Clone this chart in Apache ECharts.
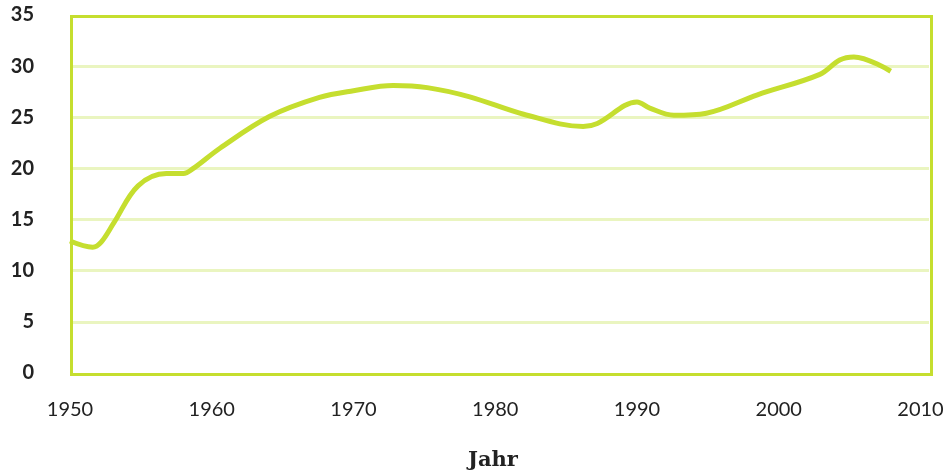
<!DOCTYPE html>
<html>
<head>
<meta charset="utf-8">
<script src="https://cdn.jsdelivr.net/npm/echarts@6/dist/echarts.min.js"></script>
<style>html,body{margin:0;padding:0;background:#fff}#c{width:949px;height:473px}</style>
</head>
<body>
<div id="c"></div>
<script>
const years = [1950, 1951.6, 1952.2, 1953.1, 1954.8, 1956.8, 1958, 1958.7, 1960.6, 1964.1, 1967.6, 1970, 1972.8, 1975.2, 1978.2, 1982, 1986.2, 1987.2, 1990, 1990.9, 1992.6, 1994.9, 1998.5, 2002.9, 2004.3, 2005.3, 2007.9];
const values = [12.9, 12.3, 12.8, 14.7, 18.3, 19.5, 19.5, 20.0, 22.0, 25.1, 26.95, 27.6, 28.1, 27.9, 27.0, 25.3, 24.1, 24.4, 26.5, 25.9, 25.2, 25.4, 27.2, 29.2, 30.6, 30.9, 29.5];
const xTitle = 'Jahr';

const green = '#c5de2f';
const chart = echarts.init(document.getElementById('c'), null, {renderer: 'canvas'});
chart.setOption({
  animation: false,
  grid: {left: 70, right: 20, top: 15, bottom: 100, show: false},
  xAxis: {
    type: 'value', min: 1950, max: 2010.6, interval: 10,
    axisLine: {show: false},
    axisTick: {show: false},
    splitLine: {show: false},
    axisLabel: {margin: 27, fontFamily: 'Lato', fontSize: 20, color: '#222',
      formatter: v => (v % 10 === 0 ? String(v) : '')}
  },
  yAxis: {
    type: 'value', min: 0, max: 35, interval: 5,
    axisLine: {show: false},
    axisTick: {show: false},
    splitLine: {show: true, showMinLine: false, showMaxLine: false, lineStyle: {color: '#eaf5c0', width: 3}},
    axisLabel: {margin: 36, fontFamily: 'Lato', fontWeight: 'bold', fontSize: 20, color: '#222'}
  },
  graphic: [{
    type: 'rect', left: 69, top: 14, z: 10, silent: true,
    shape: {width: 860, height: 358},
    style: {fill: 'none', stroke: green, lineWidth: 3}
  }, {
    type: 'text', left: 468, top: 450,
    style: {text: xTitle, font: 'bold 21px "DejaVu Serif"', fill: '#222'}
  }],
  series: [{
    type: 'line', smooth: 0.35, symbol: 'none',
    lineStyle: {color: green, width: 5},
    data: years.map((y, i) => [y, values[i]])
  }]
});
</script>
</body>
</html>
